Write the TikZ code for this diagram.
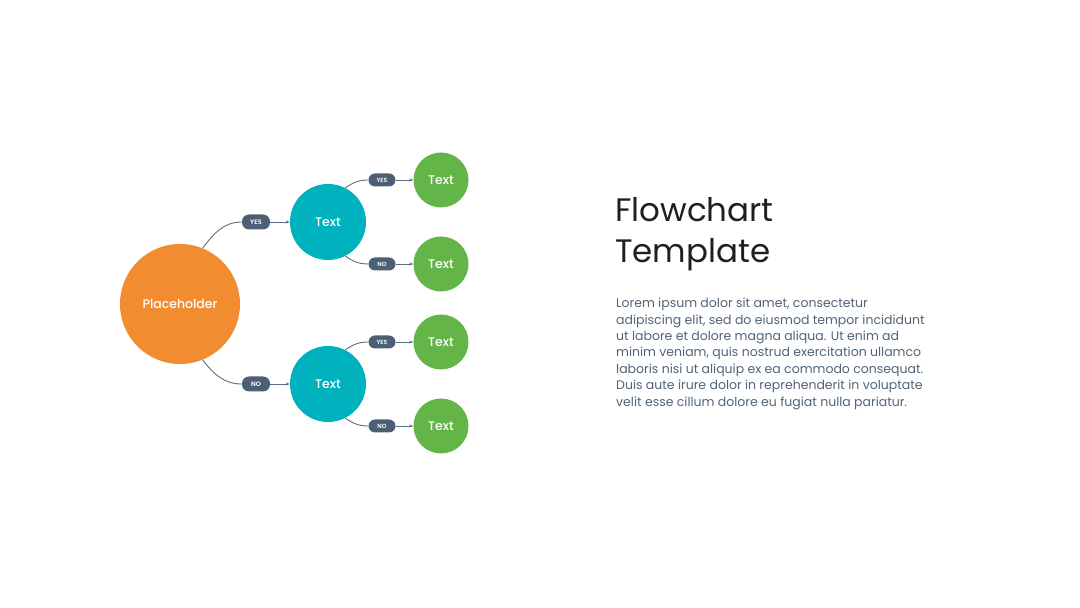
\documentclass[tikz,border=0pt]{standalone}
\usepackage{fontspec}
\setmainfont{Poppins}
\newfontfamily\medfont{Poppins Medium}
\newfontfamily\semifont{Poppins SemiBold}
\usetikzlibrary{arrows.meta}

\definecolor{rootorange}{HTML}{F28C30}
\definecolor{branchteal}{HTML}{00B1BE}
\definecolor{leafgreen}{HTML}{63B548}
\definecolor{pillslate}{HTML}{4C6075}
\definecolor{linkgrey}{HTML}{5E6E80}
\definecolor{titleink}{HTML}{1F1F1F}
\definecolor{bodyink}{HTML}{526477}

\tikzset{
  bubble/.style={circle, inner sep=0pt, text=white, font=\medfont\fontsize{12.5}{15}\selectfont},
  answer/.style={rectangle, rounded corners=7pt, fill=pillslate, text=white, inner sep=0pt,
    minimum width=28pt, minimum height=15pt, font=\semifont\fontsize{6.5}{7}\selectfont},
  smallanswer/.style={answer, rounded corners=6.5pt, minimum width=27pt, minimum height=13pt,
    font=\semifont\fontsize{6}{7}\selectfont},
  link/.style={draw=linkgrey, line width=0.9pt},
  linkarrow/.style={link, -{Stealth[length=4pt,width=3pt]}}
}

\begin{document}
\begin{tikzpicture}[x=1pt,y=1pt]
  \fill[white] (0,0) rectangle (1080,608);
  \useasboundingbox (0,0) rectangle (1080,608);

  \node[bubble, fill=rootorange, minimum size=120pt] (root) at (180,304) {Placeholder};
  \node[bubble, fill=branchteal, minimum size=76pt] (upper) at (328,386) {Text};
  \node[bubble, fill=branchteal, minimum size=76pt] (lower) at (328,224) {Text};

  \node[answer] (rootyes) at (256,386) {YES};
  \node[answer] (rootno) at (256,224) {NO};

  \foreach \leafname/\leafy/\leaftext in {upperyes/428/YES, upperno/344/NO, loweryes/266/YES, lowerno/182/NO} {
    \node[bubble, fill=leafgreen, minimum size=55pt] (leaf\leafname) at (441,\leafy) {Text};
    \node[smallanswer] (pill\leafname) at (382,\leafy) {\leaftext};
    \draw[linkarrow] (pill\leafname.east) -- (leaf\leafname.west);
  }

  % curved links into the pills
  \draw[link] (root.68) to[out=52,in=180] (rootyes.west);
  \draw[link] (root.-68) to[out=-52,in=180] (rootno.west);
  \draw[linkarrow] (rootyes.east) -- (upper.west);
  \draw[linkarrow] (rootno.east) -- (lower.west);
  \foreach \branch in {upper,lower} {
    \draw[link] (\branch.63) to[out=35,in=180] (pill\branch yes.west);
    \draw[link] (\branch.-63) to[out=-35,in=180] (pill\branch no.west);
  }

  \node[anchor=north west, inner sep=0pt, align=left, text=titleink,
    font=\fontsize{32.5}{41}\selectfont] (title) at (615,411) {Flowchart\\Template};

  \node[anchor=north west, inner sep=0pt, align=left, text=bodyink,
    font=\fontsize{12.5}{16.4}\selectfont] (body) at (616,310)
    {Lorem ipsum dolor sit amet, consectetur\\
     adipiscing elit, sed do eiusmod tempor incididunt\\
     ut labore et dolore magna aliqua. Ut enim ad\\
     minim veniam, quis nostrud exercitation ullamco\\
     laboris nisi ut aliquip ex ea commodo consequat.\\
     Duis aute irure dolor in reprehenderit in voluptate\\
     velit esse cillum dolore eu fugiat nulla pariatur.};
\end{tikzpicture}
\end{document}
